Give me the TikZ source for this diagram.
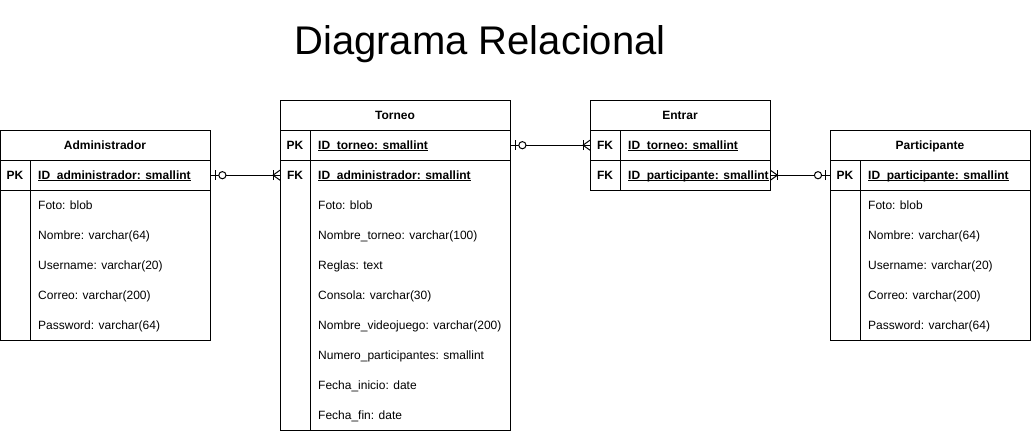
\documentclass[tikz,border=0pt]{standalone}
\usepackage{fontspec}
\setmainfont{Liberation Sans}
\newcommand\ulbf[1]{\setbox0\hbox{\bfseries #1}\rlap{\rule[-1.7pt]{\wd0}{0.8pt}}\box0}
\begin{document}
\begin{tikzpicture}[x=1pt,y=-1pt,
  tbl/.style={draw, line width=1pt, inner sep=0pt, anchor=north west},
  rowref/.style={draw=none, inner sep=0pt, anchor=north west, minimum height=30pt},
  sep/.style={line width=1pt},
  hdr/.style={font=\bfseries\fontsize{12}{14}\selectfont, inner sep=0pt, anchor=base},
  keyt/.style={font=\bfseries\fontsize{12}{14}\selectfont, inner sep=0pt, anchor=base},
  fld/.style={font=\fontsize{12}{14}\selectfont, inner sep=0pt, anchor=base west},
  conn/.style={line width=1pt},
  pics/zo/.style={code={\draw[conn] (5,-5) -- (5,5); \draw[conn,fill=white] (12,0) circle[radius=3.6pt];}},
  pics/crow/.style={code={\draw[conn] (7,-5) -- (7,5); \draw[conn] (0,-5) -- (7,0) -- (0,5);}}
]
\useasboundingbox (0,0) rectangle (1031,431);
\node[inner sep=0pt, font=\fontsize{40}{48}\selectfont, anchor=base] (title) at (480,54) {Diagrama Relacional};

% Administrador
\node[tbl, minimum width=210pt, minimum height=210pt] (admin) at (0,130) {};
\draw[sep] (0,160) -- (210,160);
\draw[sep] (0,190) -- (210,190);
\draw[sep] (30,160) -- (30,340);
\node[rowref, minimum width=210pt] (adPK) at (0,160) {};
\node[hdr] (adH) at (105,149.3) {Administrador};
\node[keyt] (adK1) at (15,179.3) {PK};
\node[fld] (adF1) at (38,179.3) {\ulbf{ID\_administrador: smallint}};
\node[fld] (adF2) at (38,209.3) {Foto: blob};
\node[fld] (adF3) at (38,239.3) {Nombre: varchar(64)};
\node[fld] (adF4) at (38,269.3) {Username: varchar(20)};
\node[fld] (adF5) at (38,299.3) {Correo: varchar(200)};
\node[fld] (adF6) at (38,329.3) {Password: varchar(64)};

% Torneo
\node[tbl, minimum width=230pt, minimum height=330pt] (torneo) at (280,100) {};
\draw[sep] (280,130) -- (510,130);
\draw[sep] (280,160) -- (510,160);
\draw[sep] (310,130) -- (310,430);
\node[rowref, minimum width=230pt] (toPK) at (280,130) {};
\node[rowref, minimum width=230pt] (toFK) at (280,160) {};
\node[hdr] (toH) at (395,119.3) {Torneo};
\node[keyt] (toK1) at (295,149.3) {PK};
\node[keyt] (toK2) at (295,179.3) {FK};
\node[fld] (toF1) at (318,149.3) {\ulbf{ID\_torneo: smallint}};
\node[fld] (toF2) at (318,179.3) {\ulbf{ID\_administrador: smallint}};
\node[fld] (toF3) at (318,209.3) {Foto: blob};
\node[fld] (toF4) at (318,239.3) {Nombre\_torneo: varchar(100)};
\node[fld] (toF5) at (318,269.3) {Reglas: text};
\node[fld] (toF6) at (318,299.3) {Consola: varchar(30)};
\node[fld] (toF7) at (318,329.3) {Nombre\_videojuego: varchar(200)};
\node[fld] (toF8) at (318,359.3) {Numero\_participantes: smallint};
\node[fld] (toF9) at (318,389.3) {Fecha\_inicio: date};
\node[fld] (toF10) at (318,419.3) {Fecha\_fin: date};

% Entrar
\node[tbl, minimum width=180pt, minimum height=90pt] (entrar) at (590,100) {};
\draw[sep] (590,130) -- (770,130);
\draw[sep] (590,160) -- (770,160);
\draw[sep] (620,130) -- (620,190);
\node[rowref, minimum width=180pt] (enFK1) at (590,130) {};
\node[rowref, minimum width=180pt] (enFK2) at (590,160) {};
\node[hdr] (enH) at (680,119.3) {Entrar};
\node[keyt] (enK1) at (605,149.3) {FK};
\node[keyt] (enK2) at (605,179.3) {FK};
\node[fld] (enF1) at (628,149.3) {\ulbf{ID\_torneo: smallint}};
\node[fld] (enF2) at (628,179.3) {\ulbf{ID\_participante: smallint}};

% Participante
\node[tbl, minimum width=200pt, minimum height=210pt] (part) at (830,130) {};
\draw[sep] (830,160) -- (1030,160);
\draw[sep] (830,190) -- (1030,190);
\draw[sep] (860,160) -- (860,340);
\node[rowref, minimum width=200pt] (paPK) at (830,160) {};
\node[hdr] (paH) at (930,149.3) {Participante};
\node[keyt] (paK1) at (845,179.3) {PK};
\node[fld] (paF1) at (868,179.3) {\ulbf{ID\_participante: smallint}};
\node[fld] (paF2) at (868,209.3) {Foto: blob};
\node[fld] (paF3) at (868,239.3) {Nombre: varchar(64)};
\node[fld] (paF4) at (868,269.3) {Username: varchar(20)};
\node[fld] (paF5) at (868,299.3) {Correo: varchar(200)};
\node[fld] (paF6) at (868,329.3) {Password: varchar(64)};

% Connectors
\draw[conn] (adPK.east) -- (toFK.west);
\pic at (adPK.east) {zo};
\pic[rotate=180] at (toFK.west) {crow};

\draw[conn] (toPK.east) -- (enFK1.west);
\pic at (toPK.east) {zo};
\pic[rotate=180] at (enFK1.west) {crow};

\draw[conn] (enFK2.east) -- (paPK.west);
\pic at (enFK2.east) {crow};
\pic[rotate=180] at (paPK.west) {zo};
\end{tikzpicture}
\end{document}
